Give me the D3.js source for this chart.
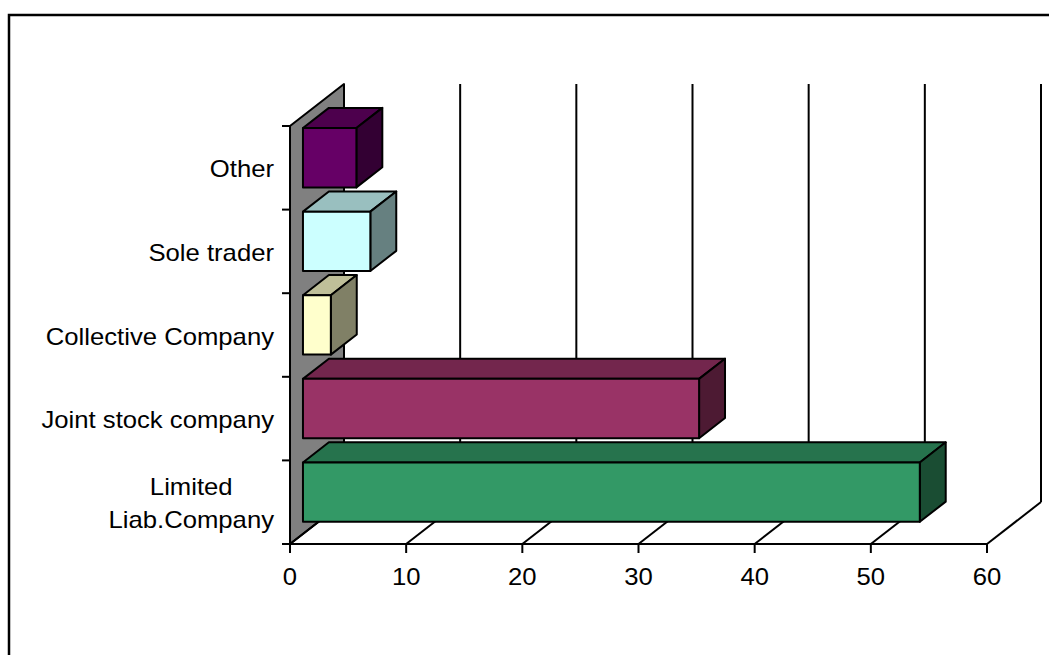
<!DOCTYPE html>
<html>
<head>
<meta charset="utf-8">
<script src="https://cdn.jsdelivr.net/npm/d3@7"></script>
<style>
  html, body { margin: 0; padding: 0; background: #fff; }
  svg { display: block; }
  text { font-family: "Liberation Sans", Arial, sans-serif; fill: #000; }
</style>
</head>
<body>
<svg id="chart" width="1049" height="655"></svg>
<script>
// Legal form of enterprises, bottom to top
const categories = ["Limited\nLiab.Company", "Joint stock company", "Collective Company", "Sole trader", "Other"];
const values = [53.1, 34.1, 2.4, 5.8, 4.6];
const tickValues = [0, 10, 20, 30, 40, 50, 60];
const frontColors = ["#339966", "#993366", "#FFFFCC", "#CCFFFF", "#660066"];

const svg = d3.select("#chart");

// Outer frame
svg.append("rect")
  .attr("x", 9).attr("y", 15)
  .attr("width", 1200).attr("height", 800)
  .attr("fill", "none").attr("stroke", "#000").attr("stroke-width", 2.5);

// Scales for the front plane of the 3-D box
const x = d3.scaleLinear().domain([0, 60]).range([290, 987]);
const y = d3.scaleBand().domain(categories).range([544, 126]);
const band = y.bandwidth();

// Depth projection: d = 0 front plane, d = 1 back wall
const DX = 54, DY = -42;
const P = (px, py, d) => [px + d * DX, py + d * DY];
const pts = arr => arr.map(p => p.join(",")).join(" ");

const textScale = 1.07;
const fontSize = 24;

const yTop = y.range()[1], yBot = y.range()[0];

// Side wall
svg.append("polygon")
  .attr("points", pts([P(x(0), yTop, 0), P(x(0), yTop, 1), P(x(0), yBot, 1), P(x(0), yBot, 0)]))
  .attr("fill", "#808080").attr("stroke", "#000").attr("stroke-width", 2)
  .attr("stroke-linejoin", "round");

// Back wall gridlines
svg.append("g").selectAll("line")
  .data(tickValues.filter(t => t > 0))
  .join("line")
  .attr("x1", t => P(x(t), yTop, 1)[0]).attr("y1", P(0, yTop, 1)[1])
  .attr("x2", t => P(x(t), yBot, 1)[0]).attr("y2", P(0, yBot, 1)[1])
  .attr("stroke", "#000").attr("stroke-width", 2);

// Floor lines
svg.append("g").selectAll("line")
  .data(tickValues)
  .join("line")
  .attr("x1", t => x(t)).attr("y1", yBot)
  .attr("x2", t => P(x(t), yBot, 1)[0]).attr("y2", P(0, yBot, 1)[1])
  .attr("stroke", "#000").attr("stroke-width", 2);

svg.append("line")
  .attr("x1", x(0)).attr("y1", yBot).attr("x2", x(60)).attr("y2", yBot)
  .attr("stroke", "#000").attr("stroke-width", 2);

// Value axis ticks and labels
svg.append("g").selectAll("line")
  .data(tickValues)
  .join("line")
  .attr("x1", t => x(t)).attr("y1", yBot)
  .attr("x2", t => x(t)).attr("y2", yBot + 9)
  .attr("stroke", "#000").attr("stroke-width", 2);

svg.append("g").selectAll("text")
  .data(tickValues)
  .join("text")
  .attr("transform", t => `translate(${x(t)},585) scale(${textScale},1)`)
  .attr("text-anchor", "middle")
  .style("font-size", fontSize + "px")
  .text(t => t);

// Category axis ticks
const catTicks = categories.map(c => y(c)).concat([yBot]);
svg.append("g").selectAll("line")
  .data(catTicks)
  .join("line")
  .attr("x1", x(0) - 8).attr("y1", d => d)
  .attr("x2", x(0)).attr("y2", d => d)
  .attr("stroke", "#000").attr("stroke-width", 2);

// 3-D bars
const d0 = 0.24, d1 = 0.72;
const inset = band * 0.145, barH = band * 0.71;
const shade = (c, k) => {
  const r = d3.rgb(c);
  return d3.rgb(r.r * k, r.g * k, r.b * k).formatHex();
};

const barData = categories.map((c, i) => ({ c, v: values[i], color: frontColors[i] })).reverse();
const bars = svg.append("g").selectAll("g").data(barData).join("g")
  .attr("stroke", "#000").attr("stroke-width", 2).attr("stroke-linejoin", "round");

bars.each(function (d) {
  const g = d3.select(this);
  const x0 = x(0), x1 = x(d.v);
  const yt = y(d.c) + inset, yb = yt + barH;
  g.append("polygon")
    .attr("points", pts([P(x0, yt, d0), P(x1, yt, d0), P(x1, yt, d1), P(x0, yt, d1)]))
    .attr("fill", shade(d.color, 0.75));
  g.append("polygon")
    .attr("points", pts([P(x1, yt, d0), P(x1, yt, d1), P(x1, yb, d1), P(x1, yb, d0)]))
    .attr("fill", shade(d.color, 0.5));
  g.append("polygon")
    .attr("points", pts([P(x0, yt, d0), P(x1, yt, d0), P(x1, yb, d0), P(x0, yb, d0)]))
    .attr("fill", d.color);
});

// Category labels, right aligned block, wrapped lines centred
const labelRight = 274;
const lineGap = 33.5;
categories.forEach(c => {
  const lines = c.split("\n");
  const cy = y(c) + band / 2 + 1;
  const g = svg.append("g")
    .attr("transform", `translate(${labelRight},${cy}) scale(${textScale},1)`);
  const texts = g.selectAll("text").data(lines).join("text")
    .attr("text-anchor", "middle")
    .style("font-size", fontSize + "px")
    .attr("y", (l, i) => (i - (lines.length - 1) / 2) * lineGap + 8.5)
    .text(l => l);
  let maxW = 0;
  texts.each(function () { maxW = Math.max(maxW, this.getComputedTextLength()); });
  texts.attr("x", -maxW / 2);
});
</script>
</body>
</html>
